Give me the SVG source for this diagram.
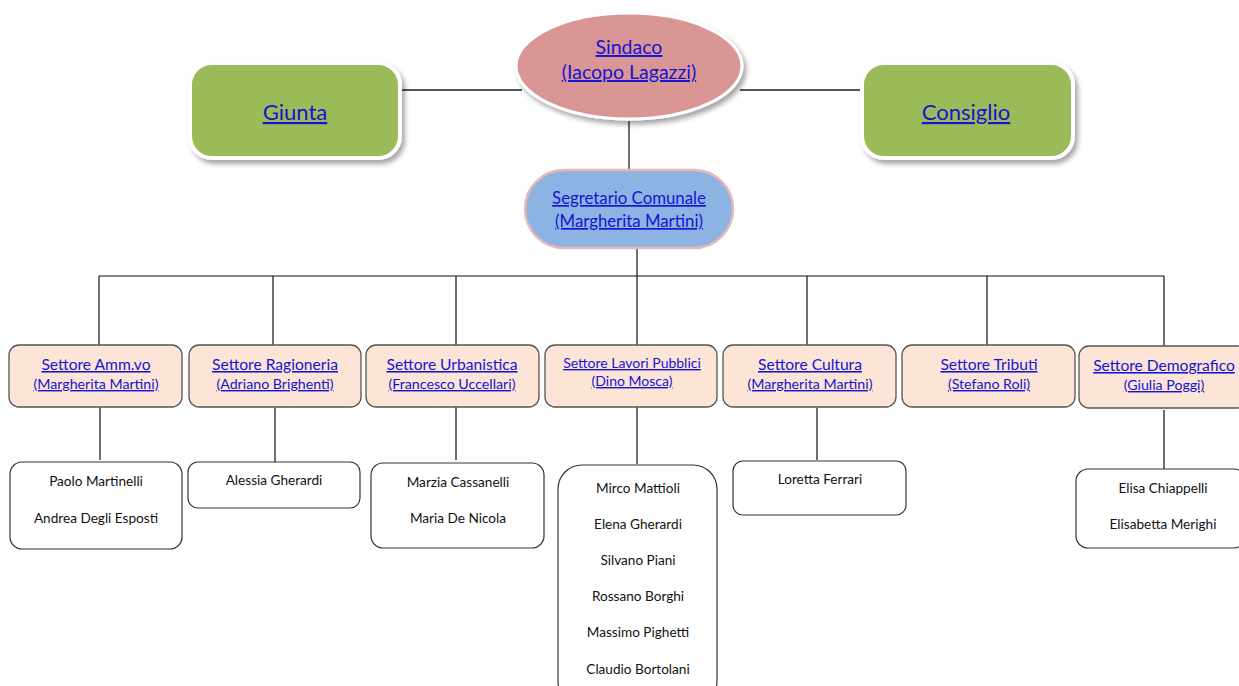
<svg xmlns="http://www.w3.org/2000/svg" width="1239" height="686" viewBox="0 0 1239 686">
<defs>
<filter id="sh" x="-20%" y="-20%" width="150%" height="160%">
<feDropShadow dx="3" dy="4" stdDeviation="2.5" flood-color="#000" flood-opacity="0.35"/>
</filter>
<style>
.lnk{font-family:Lato,"Liberation Sans",sans-serif;fill:#1414d2;text-decoration:underline;text-anchor:middle}
.nm{font-family:Lato,"Liberation Sans",sans-serif;fill:#111;font-size:13.6px;text-anchor:middle}
.big{font-size:22px}
.top{font-size:19.5px}
.seg{font-size:16.8px}
.s1{font-size:15.6px}
.s2{font-size:14.2px}
.s3{font-size:14px}
.green{fill:#9bbb59;stroke:#fff;stroke-width:4}
.sect{fill:#fce5d6;stroke:#555;stroke-width:1.3}
.pers{fill:#fff;stroke:#333;stroke-width:1.2}
.c1{stroke:#555;stroke-width:2;fill:none}
.c2{stroke:#111;stroke-width:1.2;fill:none}
</style>
</defs>
<rect width="1239" height="686" fill="#fff"/>
<g id="connectors">
<path class="c1" d="M400 90H522M740 90H862"/>
<path class="c2" d="M629 121V172M637 248V276M99 276H1164M99 276V345M273 276V345M456 276V345M637 276V345M807 276V345M987 276V345M1164 276V346"/>
<path class="c2" d="M100 407V460M275 408V462M456 407V460M637 407V464M817 408V460M1164 410V469"/>
</g>
<g id="giunta">
<rect class="green" x="190" y="63" width="210" height="95" rx="22" filter="url(#sh)"/>
<text class="lnk big" x="295" y="120">Giunta</text>
</g>
<g id="consiglio">
<rect class="green" x="862" y="63" width="211" height="95" rx="22" filter="url(#sh)"/>
<text class="lnk big" x="966" y="120">Consiglio</text>
</g>
<g id="sindaco">
<ellipse cx="629" cy="66" rx="113" ry="53" fill="#d99694" stroke="#fff" stroke-width="3" filter="url(#sh)"/>
<text class="lnk top" x="629" y="54">Sindaco</text>
<text class="lnk top" x="629" y="79">(Iacopo Lagazzi)</text>
</g>
<g id="segretario">
<rect x="525" y="170" width="208" height="78" rx="39" fill="#8db3e2" stroke="#e6b9b8" stroke-width="2.5"/>
<text class="lnk seg" x="629" y="204">Segretario Comunale</text>
<text class="lnk seg" x="629" y="227">(Margherita Martini)</text>
</g>
<g id="s-amm">
<rect class="sect" x="9" y="345" width="173" height="62" rx="10"/>
<text class="lnk s1" x="96" y="370">Settore Amm.vo</text>
<text class="lnk s2" x="96" y="389">(Margherita Martini)</text>
</g>
<g id="s-rag">
<rect class="sect" x="189" y="345" width="172" height="62" rx="10"/>
<text class="lnk s1" x="275" y="370">Settore Ragioneria</text>
<text class="lnk s2" x="275" y="389">(Adriano Brighenti)</text>
</g>
<g id="s-urb">
<rect class="sect" x="366" y="345" width="173" height="62" rx="10"/>
<text class="lnk s1" x="452" y="370">Settore Urbanistica</text>
<text class="lnk s2" x="452" y="389">(Francesco Uccellari)</text>
</g>
<g id="s-lav">
<rect class="sect" x="545" y="345" width="172" height="62" rx="10"/>
<text class="lnk s3" x="632" y="368">Settore Lavori Pubblici</text>
<text class="lnk s3" x="632" y="386">(Dino Mosca)</text>
</g>
<g id="s-cul">
<rect class="sect" x="723" y="345" width="173" height="62" rx="10"/>
<text class="lnk s1" x="810" y="370">Settore Cultura</text>
<text class="lnk s2" x="810" y="389">(Margherita Martini)</text>
</g>
<g id="s-tri">
<rect class="sect" x="902" y="345" width="173" height="62" rx="10"/>
<text class="lnk s1" x="989" y="370">Settore Tributi</text>
<text class="lnk s2" x="989" y="389">(Stefano Roli)</text>
</g>
<g id="s-dem">
<rect class="sect" x="1079" y="346" width="168" height="62" rx="10"/>
<text class="lnk s1" x="1164" y="371">Settore Demografico</text>
<text class="lnk s2" x="1164" y="390">(Giulia Poggi)</text>
</g>
<g id="p-amm">
<rect class="pers" x="10" y="462" width="172" height="87" rx="12"/>
<text class="nm" x="96" y="486">Paolo Martinelli</text>
<text class="nm" x="96" y="523">Andrea Degli Esposti</text>
</g>
<g id="p-rag">
<rect class="pers" x="188" y="462" width="172" height="46" rx="10"/>
<text class="nm" x="274" y="485">Alessia Gherardi</text>
</g>
<g id="p-urb">
<rect class="pers" x="371" y="463" width="173" height="85" rx="12"/>
<text class="nm" x="458" y="487">Marzia Cassanelli</text>
<text class="nm" x="458" y="523">Maria De Nicola</text>
</g>
<g id="p-lav">
<rect class="pers" x="558" y="465" width="159" height="240" rx="24"/>
<text class="nm" x="638" y="493">Mirco Mattioli</text>
<text class="nm" x="638" y="529">Elena Gherardi</text>
<text class="nm" x="638" y="565">Silvano Piani</text>
<text class="nm" x="638" y="601">Rossano Borghi</text>
<text class="nm" x="638" y="637">Massimo Pighetti</text>
<text class="nm" x="638" y="674">Claudio Bortolani</text>
</g>
<g id="p-cul">
<rect class="pers" x="733" y="461" width="173" height="54" rx="10"/>
<text class="nm" x="820" y="484">Loretta Ferrari</text>
</g>
<g id="p-dem">
<rect class="pers" x="1076" y="469" width="170" height="79" rx="12"/>
<text class="nm" x="1163" y="493">Elisa Chiappelli</text>
<text class="nm" x="1163" y="529">Elisabetta Merighi</text>
</g>
</svg>
